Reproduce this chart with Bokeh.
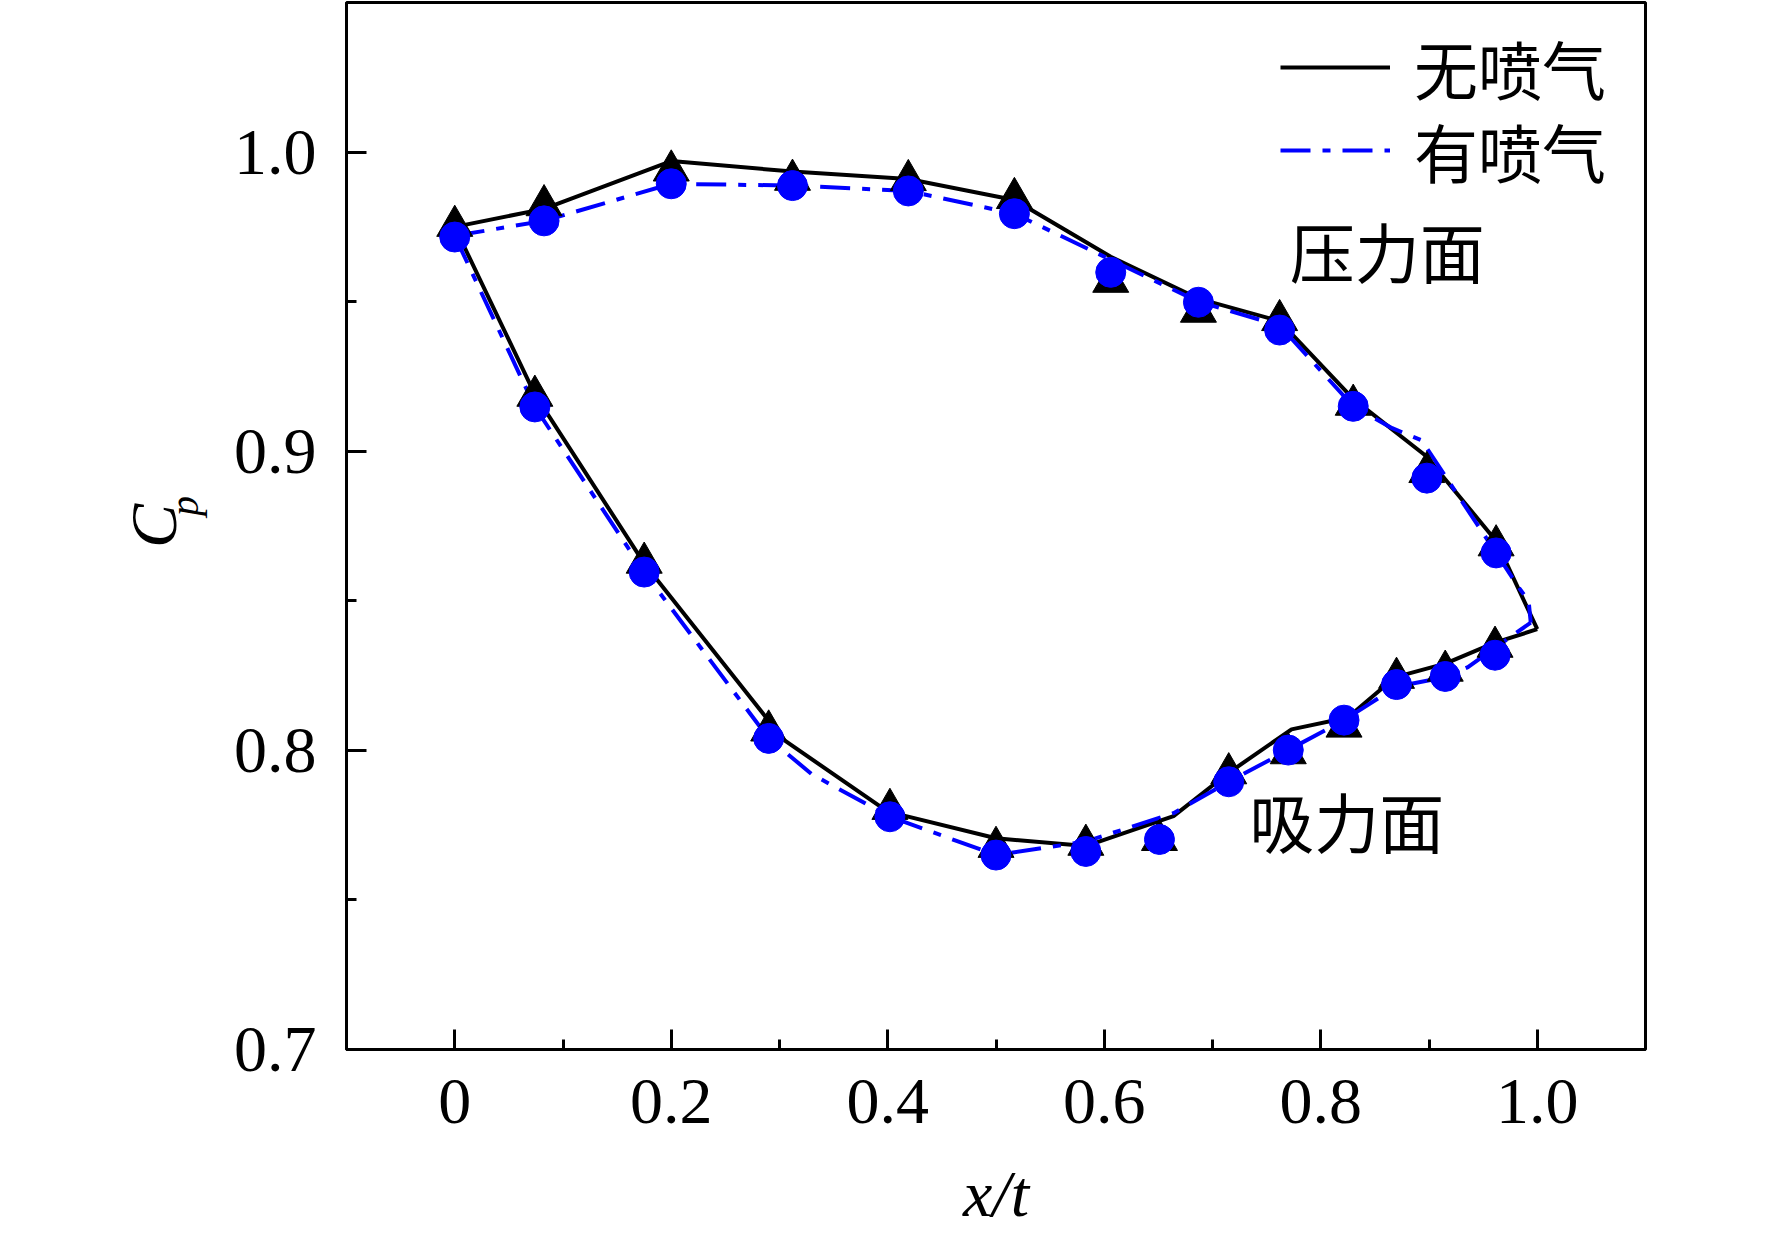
import math
from bokeh.plotting import figure
from bokeh.models import (Range1d, FixedTicker, Label, Legend, LegendItem,
                          CustomJSTickFormatter, LinearAxis)
from bokeh.embed import file_html
from bokeh.resources import INLINE

# ---------------- data ----------------
# marker stations (x/t)
st_up = [0.0, 0.0825, 0.200, 0.312, 0.419, 0.517, 0.606, 0.687, 0.762, 0.830, 0.898, 0.962]
st_lo = [0.074, 0.175, 0.290, 0.402, 0.500, 0.583, 0.651, 0.715, 0.770, 0.8215, 0.870, 0.915, 0.961]

# 无喷气 (no injection) markers: triangles
tri_up = [0.9753, 0.9822, 0.9938, 0.9907, 0.9906, 0.9846, 0.9566, 0.9466, 0.9438, 0.9155, 0.8930, 0.8685]
tri_lo = [0.9185, 0.8627, 0.8066, 0.7804, 0.7677, 0.7684, 0.7700, 0.7923, 0.7990, 0.8079, 0.8242, 0.8266, 0.8346]

# 有喷气 (with injection) markers: circles
cir_up = [0.9716, 0.9770, 0.9894, 0.9888, 0.9870, 0.9794, 0.9598, 0.9498, 0.9405, 0.9150, 0.8910, 0.8660]
cir_lo = [0.9148, 0.8596, 0.8040, 0.7778, 0.7650, 0.7662, 0.7702, 0.7895, 0.8001, 0.8101, 0.8220, 0.8247, 0.8318]

# 无喷气 line (black solid)
bl_up_x = [0.0, 0.0825, 0.200, 0.312, 0.419, 0.517, 0.606, 0.687, 0.762, 0.830, 0.897, 0.962, 1.0]
bl_up_y = [0.975, 0.981, 0.997, 0.9935, 0.991, 0.984, 0.965, 0.951, 0.9435, 0.9175, 0.8985, 0.870, 0.8405]
bl_lo_x = [0.0, 0.074, 0.175, 0.304, 0.400, 0.500, 0.583, 0.664, 0.715, 0.773, 0.825, 0.869, 0.915, 0.961, 1.0]
bl_lo_y = [0.975, 0.919, 0.8625, 0.8035, 0.7795, 0.7706, 0.768, 0.778, 0.7925, 0.807, 0.811, 0.8245, 0.829, 0.836, 0.8405]

# 有喷气 line (blue dash-dot)
bu_up_x = [0.0, 0.0825, 0.200, 0.312, 0.419, 0.517, 0.606, 0.687, 0.762, 0.830, 0.866, 0.893, 0.962, 0.983, 0.992, 0.994]
bu_up_y = [0.972, 0.977, 0.9894, 0.9888, 0.987, 0.9794, 0.964, 0.950, 0.942, 0.915, 0.9077, 0.9037, 0.866, 0.8544, 0.850, 0.8427]
bu_lo_x = [0.0, 0.074, 0.175, 0.290, 0.330, 0.402, 0.500, 0.583, 0.664, 0.715, 0.770, 0.8215, 0.870, 0.915, 0.936, 0.979, 0.994]
bu_lo_y = [0.972, 0.9148, 0.8596, 0.804, 0.792, 0.7778, 0.765, 0.7695, 0.779, 0.7895, 0.8001, 0.8101, 0.8213, 0.8245, 0.8278, 0.8389, 0.8427]

x_ticks = [0.0, 0.2, 0.4, 0.6, 0.8, 1.0]
x_minor = [0.1, 0.3, 0.5, 0.7, 0.9]
y_ticks = [0.7, 0.8, 0.9, 1.0]
y_minor = [0.75, 0.85, 0.95]

series_names = ["无喷气", "有喷气"]
surface_names = ["压力面", "吸力面"]

# ---------------- figure ----------------
SERIF = "Liberation Serif"
CJK = "Noto Sans CJK SC"
BLUE = "#0000FF"
DASHDOT = "30 12 8 12"

p = figure(width=1764, height=1232, output_backend="svg", toolbar_location=None,
           x_range=Range1d(-0.1, 1.1), y_range=Range1d(0.7, 1.05),
           min_border_left=346, min_border_right=119, min_border_top=2, min_border_bottom=182)
p.xgrid.visible = False
p.ygrid.visible = False
p.outline_line_color = "black"
p.outline_line_width = 3
p.background_fill_color = "white"
p.border_fill_color = "white"

for ax in (p.xaxis[0], p.yaxis[0]):
    ax.axis_line_width = 3
    ax.major_tick_line_width = 3
    ax.minor_tick_line_width = 3
    ax.major_tick_in = 20
    ax.major_tick_out = 0
    ax.minor_tick_in = 10
    ax.minor_tick_out = 0
    ax.major_label_text_font = SERIF
    ax.major_label_text_font_size = "66px"
    ax.major_label_text_color = "black"

p.xaxis.ticker = FixedTicker(ticks=x_ticks, minor_ticks=x_minor)
p.yaxis.ticker = FixedTicker(ticks=y_ticks, minor_ticks=y_minor)
p.xaxis.formatter = CustomJSTickFormatter(code="return Math.abs(tick) < 1e-9 ? '0' : tick.toFixed(1);")
p.yaxis.formatter = CustomJSTickFormatter(code="return tick.toFixed(1);")
p.xaxis.major_label_standoff = 30
p.yaxis.major_label_standoff = 30

p.xaxis.axis_label = "x/t"
p.xaxis.axis_label_text_font = SERIF
p.xaxis.axis_label_text_font_style = "italic"
p.xaxis.axis_label_text_font_size = "66px"
p.xaxis.axis_label_text_color = "black"
p.xaxis.axis_label_standoff = 31

# y-axis label C_p: subscript "p" on the main axis, "C" on an extra label-only axis
p.yaxis.axis_label = "\u00a0\u00a0\u00a0\u00a0p"
p.yaxis.axis_label_text_font = SERIF
p.yaxis.axis_label_text_font_style = "italic"
p.yaxis.axis_label_text_font_size = "40px"
p.yaxis.axis_label_text_color = "black"
p.yaxis.axis_label_standoff = 24

ax_c = LinearAxis(ticker=FixedTicker(ticks=[], minor_ticks=[]), axis_label="C",
                  axis_line_alpha=0, major_tick_in=0, major_tick_out=0, minor_tick_in=0,
                  minor_tick_out=0, major_label_standoff=0, axis_label_standoff=-31,
                  axis_label_text_font=SERIF, axis_label_text_font_style="italic",
                  axis_label_text_font_size="66px", axis_label_text_color="black")
p.add_layout(ax_c, "left")

# lines
r_bl_up = p.line(bl_up_x, bl_up_y, line_color="black", line_width=4)
p.line(bl_lo_x, bl_lo_y, line_color="black", line_width=4)
r_bu_up = p.line(bu_up_x, bu_up_y, line_color=BLUE, line_width=4, line_dash=DASHDOT)
p.line(bu_lo_x, bu_lo_y, line_color=BLUE, line_width=4, line_dash=DASHDOT)

# markers
p.scatter(st_up, tri_up, marker="triangle", size=36, color="black")
p.scatter(st_lo, tri_lo, marker="triangle", size=36, color="black")
p.scatter(st_up, cir_up, marker="circle", size=30, color=BLUE)
p.scatter(st_lo, cir_lo, marker="circle", size=30, color=BLUE)

# legends (one per row)
def make_legend(name, rend, y):
    return Legend(items=[LegendItem(label=name, renderers=[rend])], location=(934, y),
                  glyph_width=110, glyph_height=40, label_standoff=24, padding=0, margin=0,
                  label_text_font=CJK, label_text_font_size="64px", label_text_color="black",
                  background_fill_alpha=0, border_line_alpha=0, spacing=0, label_height=40)

p.add_layout(make_legend(series_names[0], r_bl_up, 936))
p.add_layout(make_legend(series_names[1], r_bu_up, 853))

# surface annotations
p.add_layout(Label(x=0.7713, y=0.9674, text=surface_names[0], text_font=CJK, text_font_size="65px",
                   text_align="left", text_baseline="middle", text_color="black"))
p.add_layout(Label(x=0.734, y=0.7768, text=surface_names[1], text_font=CJK, text_font_size="65px",
                   text_align="left", text_baseline="middle", text_color="black"))

open("out.html", "w").write(file_html(p, INLINE))
